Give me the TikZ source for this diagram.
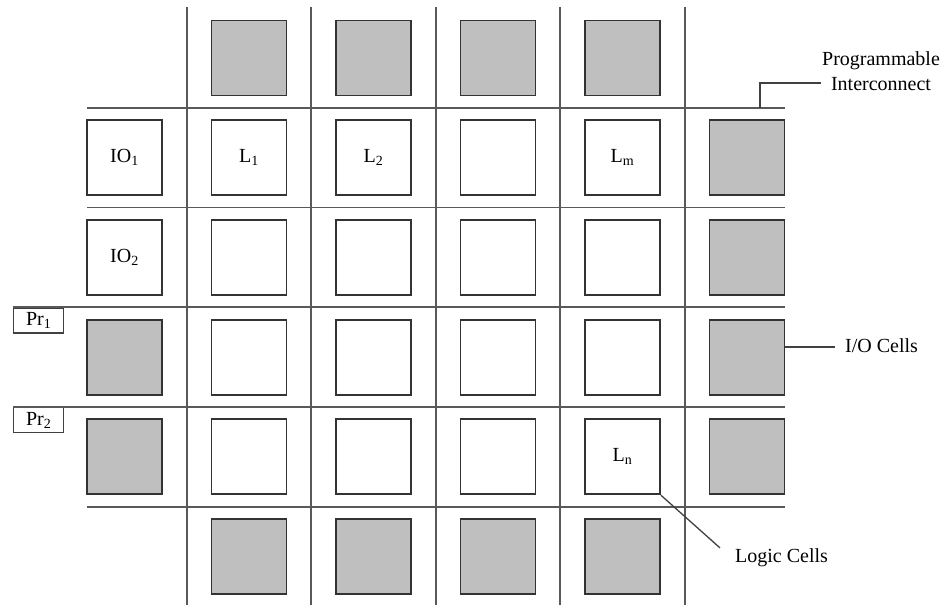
\documentclass[tikz,border=0pt]{standalone}
\usepackage{fontspec}
\setmainfont{Liberation Serif}
\begin{document}
\begin{tikzpicture}[x=1pt,y=-1pt,
  txt/.style={font=\fontsize{20}{25}\selectfont},
  cell/.style={draw=black!80, line width=1.8pt, fill=white, minimum width=75pt, minimum height=75pt, inner sep=0pt, txt},
  iocell/.style={cell, fill=black!25},
  wire/.style={draw=black!65, line width=1.7pt},
  lead/.style={draw=black!75, line width=1.3pt},
  prbox/.style={draw=black!75, line width=1.3pt, minimum width=50pt, minimum height=25pt, inner sep=0pt, anchor=north west, txt},
  lbl/.style={txt, inner sep=0pt}
  ]
\useasboundingbox (0,0) rectangle (950,605);
% routing grid
\foreach \c in {1,...,5} {
  \draw[wire] ({124.5*\c+62.25},7) -- ({124.5*\c+62.25},605);
}
\foreach \r in {0,1,4} {
  \draw[wire] (87,{58+99.7*\r+49.85}) -- (784.5,{58+99.7*\r+49.85});
}
\node[prbox] (pr1) at (13,307.25) {Pr\textsubscript{1}};
\node[prbox] (pr2) at (13,406.95) {Pr\textsubscript{2}};
\draw[wire] (pr1.north west) -- (784.5,307.25);
\draw[wire] (pr2.north west) -- (784.5,406.95);
% top and bottom I/O cells
\foreach \c in {2,...,5} {
  \node[iocell] (c0\c) at ({124.5*\c},58) {};
  \node[iocell] (c5\c) at ({124.5*\c},556.5) {};
}
% right column I/O cells
\foreach \r in {1,...,4} {
  \node[iocell] (c\r6) at (747,{58+99.7*\r}) {};
}
% left column
\node[cell] (c11) at (124.5,157.7) {IO\textsubscript{1}};
\node[cell] (c21) at (124.5,257.4) {IO\textsubscript{2}};
\node[iocell] (c31) at (124.5,357.1) {};
\node[iocell] (c41) at (124.5,456.8) {};
% logic cells
\node[cell] (c12) at (249,157.7) {L\textsubscript{1}};
\node[cell] (c13) at (373.5,157.7) {L\textsubscript{2}};
\node[cell] (c14) at (498,157.7) {};
\node[cell] (c15) at (622.5,157.7) {L\textsubscript{m}};
\foreach \r in {2,3} {
  \foreach \c in {2,...,5} {
    \node[cell] (c\r\c) at ({124.5*\c},{58+99.7*\r}) {};
  }
}
\node[cell] (c42) at (249,456.8) {};
\node[cell] (c43) at (373.5,456.8) {};
\node[cell] (c44) at (498,456.8) {};
\node[cell] (c45) at (622.5,456.8) {L\textsubscript{n}};
% annotations
\node[lbl, align=center] (pit) at (881,70.7) {Programmable\\Interconnect};
\coordinate (pia) at (760,107.85);
\coordinate (pib) at (821,83);
\draw[lead] (pia) |- (pib);
\node[lbl, anchor=base west] (iot) at (845,352) {I/O Cells};
\coordinate (ioa) at (784.5,347);
\draw[lead] (ioa) -- ([xshift=-10pt]ioa -| iot.west);
\node[lbl, anchor=base west] (lct) at (735,562) {Logic Cells};
\draw[lead] (c45.south east) -- ([xshift=-15pt]lct.north west);
\end{tikzpicture}
\end{document}
